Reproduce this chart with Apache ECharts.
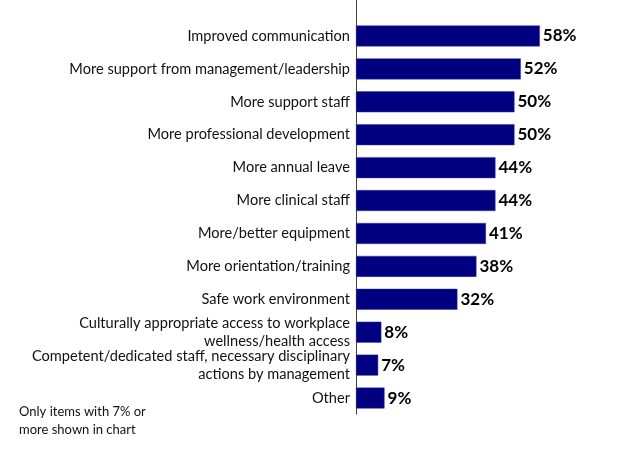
<!DOCTYPE html>
<html><head><meta charset="utf-8">
<script src="https://cdn.jsdelivr.net/npm/echarts@6/dist/echarts.min.js"></script>
<style>html,body{margin:0;padding:0;background:#fff}#c{width:624px;height:468px}</style>
</head><body><div id="c"></div>
<script>
const categories = [
  "Improved communication",
  "More support from management/leadership",
  "More support staff",
  "More professional development",
  "More annual leave",
  "More clinical staff",
  "More/better equipment",
  "More orientation/training",
  "Safe work environment",
  "Culturally appropriate access to workplace\nwellness/health access",
  "Competent/dedicated staff, necessary disciplinary\nactions by management",
  "Other"
];
const values = [58, 52, 50, 50, 44, 44, 41, 38, 32, 8, 7, 9];
const footnote = "Only items with 7% or\nmore shown in chart";

const chart = echarts.init(document.getElementById('c'), null, {renderer: 'canvas'});
const GL = 356, GT = 19.5, GB = 414.5;
chart.setOption({
  animation: false,
  grid: {left: GL, top: GT, right: 624 - GL - 80 * 3.17, bottom: 468 - GB, containLabel: false},
  xAxis: {type: 'value', min: 0, max: 80, show: false},
  yAxis: {
    type: 'category', data: categories, inverse: true,
    axisLine: {show: false}, axisTick: {show: false},
    axisLabel: {margin: 6, color: '#111', fontFamily: 'Lato', fontSize: 14.6, lineHeight: 18, align: 'right'}
  },
  series: [{
    type: 'bar', data: values, barWidth: 21,
    itemStyle: {color: '#000080', borderColor: '#3a3aa0', borderWidth: 0.5},
    label: {show: true, position: 'right', distance: 3, formatter: '{c}%',
      color: '#000', fontFamily: 'Lato', fontWeight: 'bold', fontSize: 17}
  }],
  graphic: [
    {type: 'line', shape: {x1: GL + 0.5, y1: 0, x2: GL + 0.5, y2: GB}, style: {stroke: '#404040', lineWidth: 1}},
    {type: 'text', left: 19, top: 403, style: {text: footnote, fill: '#111', font: '13px Lato', lineHeight: 18}}
  ]
});
</script></body></html>
